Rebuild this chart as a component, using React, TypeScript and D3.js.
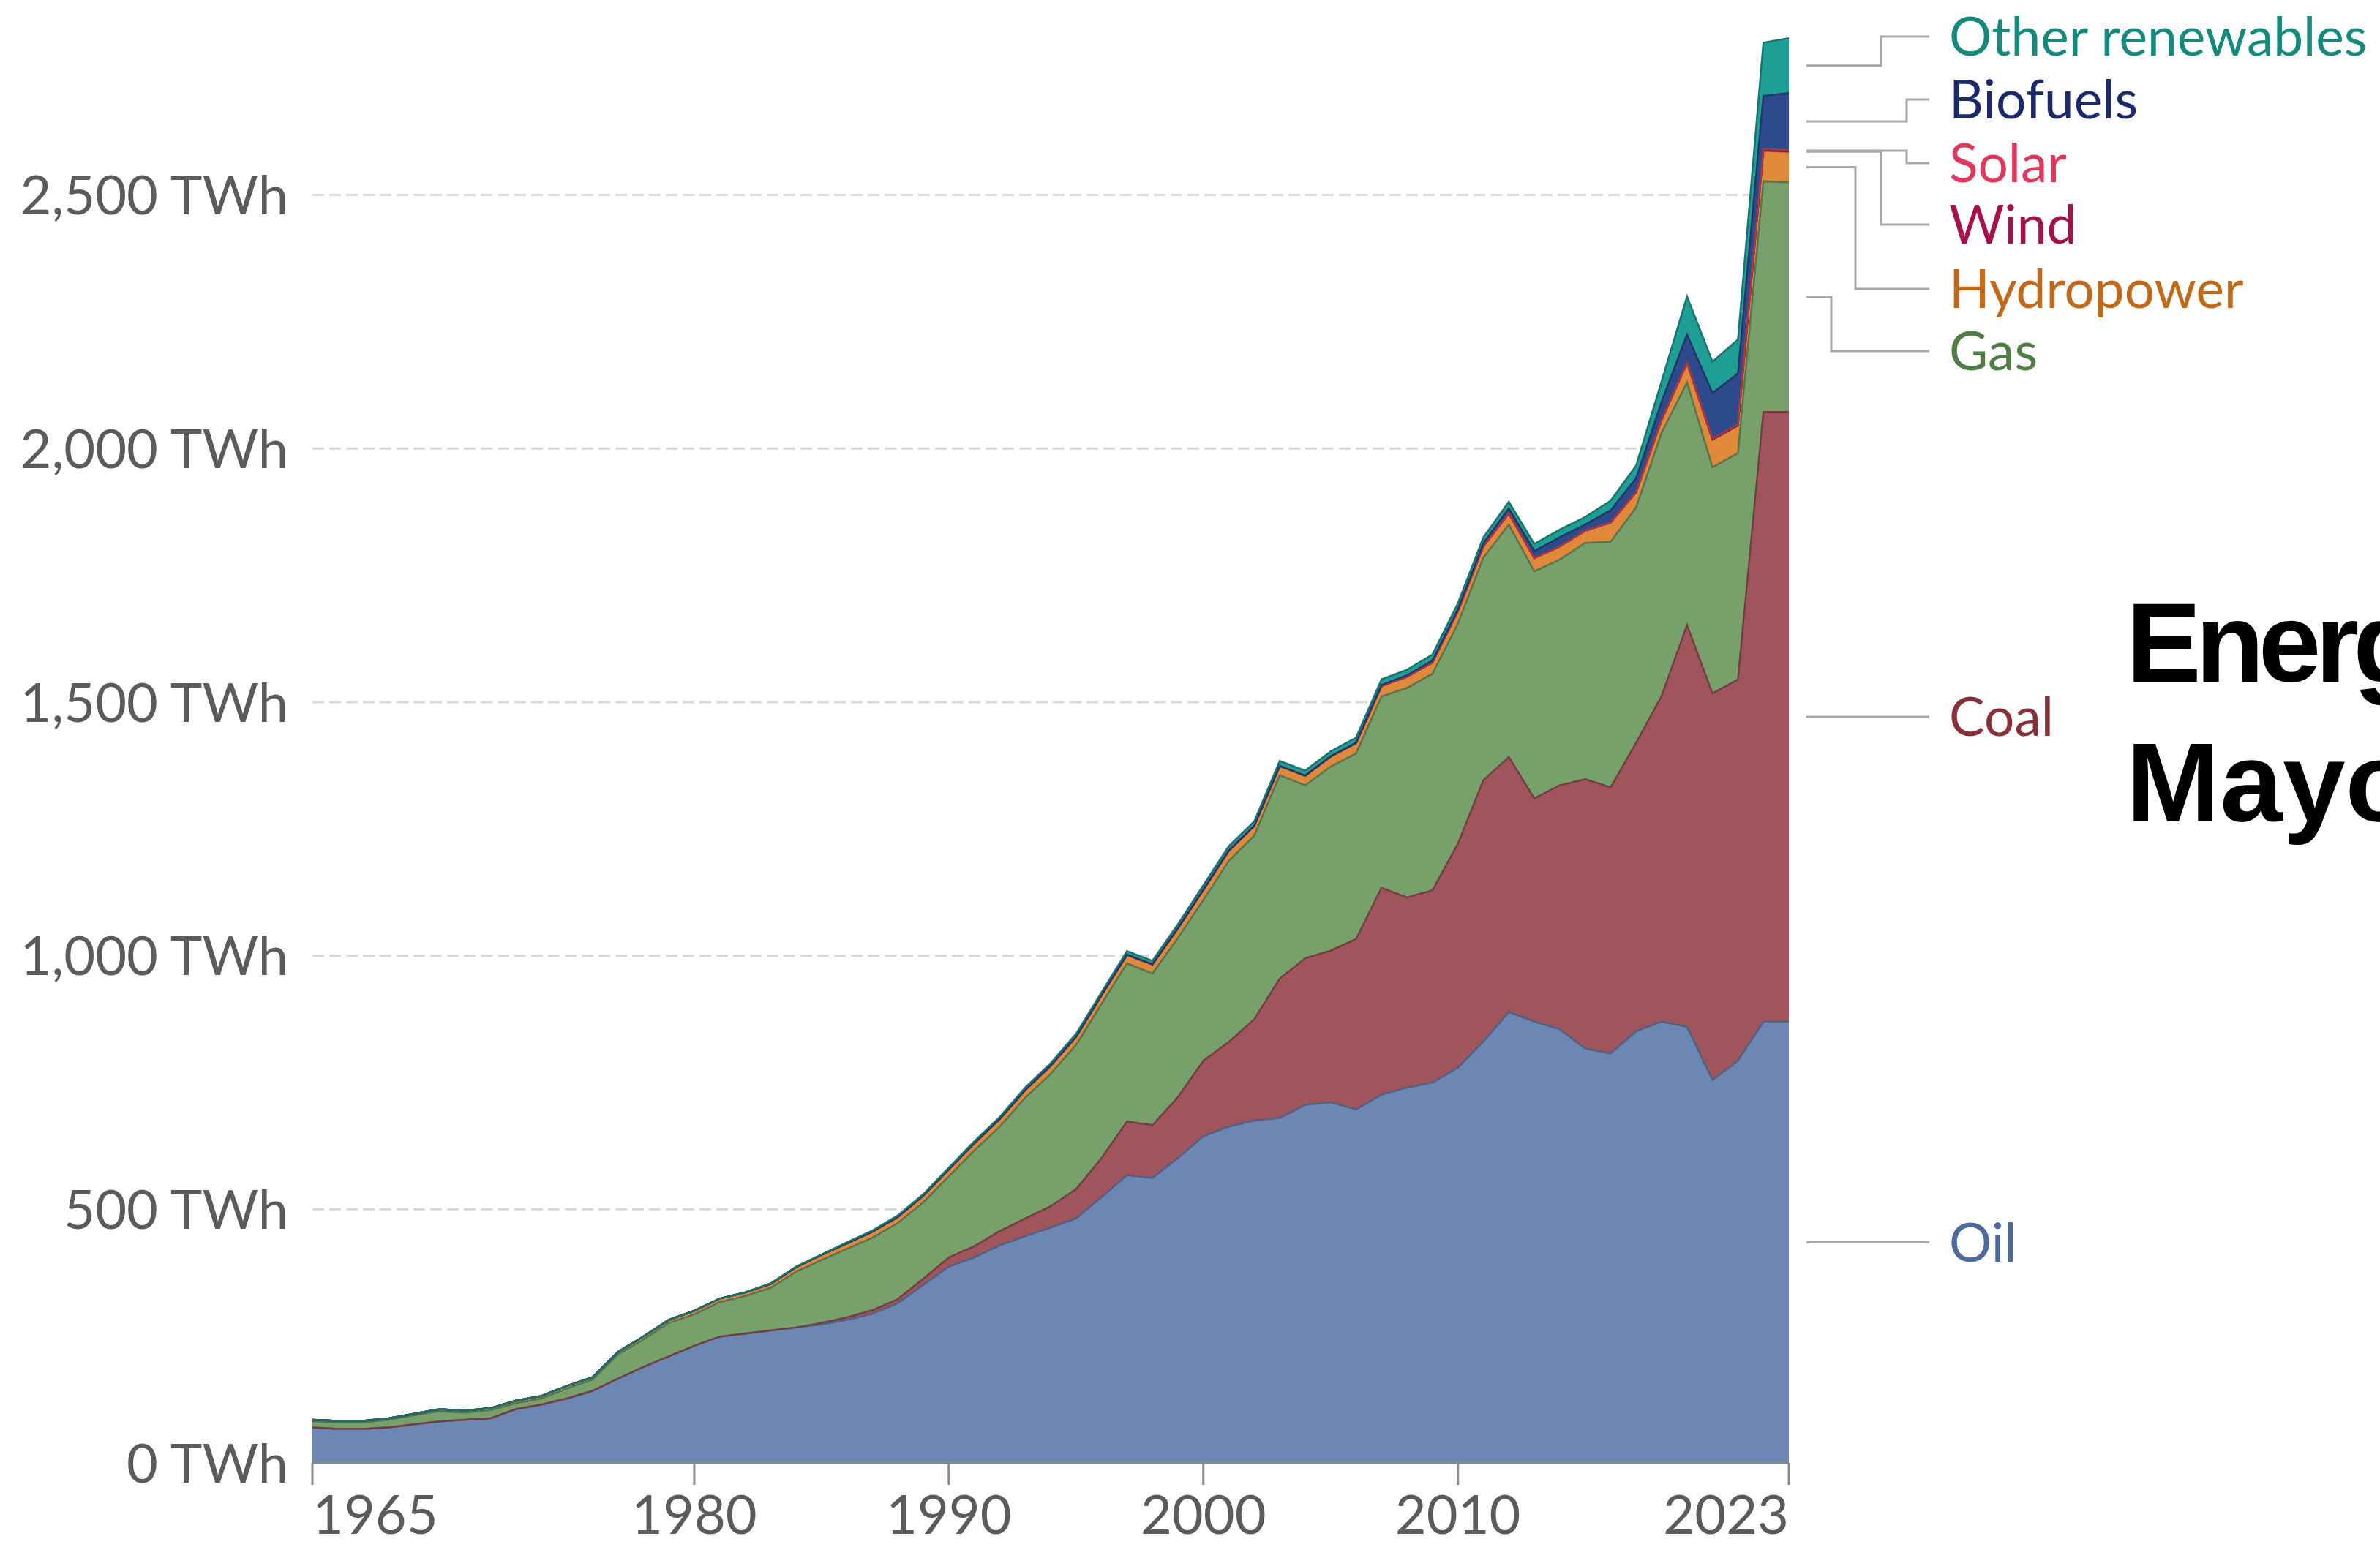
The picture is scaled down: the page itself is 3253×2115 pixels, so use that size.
import React from "react";
import * as d3 from "d3";

// primary energy by source, TWh
const years = [
  1965, 1966, 1967, 1968, 1969, 1970, 1971, 1972, 1973, 1974, 1975, 1976, 1977, 1978, 1979,
  1980, 1981, 1982, 1983, 1984, 1985, 1986, 1987, 1988, 1989, 1990, 1991, 1992, 1993, 1994,
  1995, 1996, 1997, 1998, 1999, 2000, 2001, 2002, 2003, 2004, 2005, 2006, 2007, 2008, 2009,
  2010, 2011, 2012, 2013, 2014, 2015, 2016, 2017, 2018, 2019, 2020, 2021, 2022, 2023,
];
const oil = [
  70, 67, 67, 70, 76, 82, 85, 88, 106, 115, 127,
  142, 166, 189, 210, 231, 249, 255, 261, 267, 273,
  282, 294, 315, 351, 387, 405, 429, 447, 464, 482,
  524, 567, 562, 601, 644, 663, 675, 680, 706, 711,
  697, 726, 740, 750, 779, 831, 889, 870, 855, 817,
  807, 851, 870, 860, 755, 793, 870, 870,
];
const coal = [
  0, 0, 0, 0, 0, 0, 0, 0, 0, 0, 0,
  0, 0, 0, 0, 0, 0, 0, 0, 0, 3,
  5, 7, 8, 12, 18, 22, 28, 35, 42, 58,
  77, 106, 104, 120, 149, 167, 200, 275, 289, 299,
  336, 408, 375, 379, 442, 515, 503, 440, 481, 531,
  525, 569, 642, 792, 762, 752, 1202, 1202,
];
const gas = [
  12, 13, 13, 15, 18, 20, 14, 16, 12, 12, 20,
  22, 48, 54, 66, 62, 68, 74, 84, 110, 124,
  135, 143, 150, 151, 160, 189, 206, 238, 261, 284,
  304, 312, 299, 314, 317, 357, 362, 401, 341, 363,
  366, 377, 413, 427, 434, 439, 458, 448, 445, 466,
  484, 464, 519, 478, 446, 446, 455, 453,
];
const hydropower = [
  3, 3, 3, 3, 3, 4, 4, 4, 5, 5, 5,
  5, 5, 6, 6, 7, 7, 7, 8, 9, 10,
  11, 12, 12, 13, 14, 14, 15, 15, 16, 16,
  17, 17, 18, 19, 20, 20, 19, 18, 19, 20,
  20, 21, 22, 22, 24, 22, 22, 26, 26, 24,
  38, 30, 25, 38, 54, 54, 60, 60,
];
const wind = [
  0, 0, 0, 0, 0, 0, 0, 0, 0, 0, 0,
  0, 0, 0, 0, 0, 0, 0, 0, 0, 0,
  0, 0, 0, 0, 0, 0, 0, 0, 0, 0,
  0, 0, 0, 0, 0, 0, 0, 0, 0, 0,
  0, 0, 0, 0, 0, 0, 0, 0, 0, 0,
  0, 0, 0.5, 1, 1, 1, 1, 1,
];
const solar = [
  0, 0, 0, 0, 0, 0, 0, 0, 0, 0, 0,
  0, 0, 0, 0, 0, 0, 0, 0, 0, 0,
  0, 0, 0, 0, 0, 0, 0, 0, 0, 0,
  0, 0, 0, 0, 0, 0, 0, 0, 0, 0,
  0, 0, 0, 0, 0, 0, 0, 0, 0, 0.2,
  0.3, 0.5, 0.7, 1, 1.5, 2, 2.5, 3,
];
const biofuels = [
  0, 0, 0, 0, 0, 0, 0, 0, 0, 0, 0,
  0, 0, 0, 0, 0, 0, 0, 0, 0, 0,
  0, 0, 0, 0, 0, 0, 0, 0, 0, 0,
  0, 0, 0, 0, 0, 0, 0, 0, 0, 0,
  1, 2, 3, 4, 4, 6, 10, 14, 18, 12,
  24, 27, 35, 55, 90, 100, 105, 112,
];
const otherRenewables = [
  0, 0, 0, 0, 0, 0, 0, 0, 0, 0, 0,
  0, 0, 0, 0, 0, 0, 0, 1, 1, 1,
  2, 2, 3, 3, 3, 4, 4, 5, 5, 6,
  6, 7, 7, 8, 9, 9, 9, 10, 10, 10,
  10, 11, 11, 12, 12, 12, 13, 14, 15, 15,
  19, 25, 40, 75, 62, 67, 105, 108,
];

const sources = ["Oil", "Coal", "Gas", "Hydropower", "Wind", "Solar", "Biofuels", "Other renewables"];
const values = [oil, coal, gas, hydropower, wind, solar, biofuels, otherRenewables];
const fills = ["#6d87b4", "#a0545c", "#77a06b", "#e0893a", "#b8284f", "#e64a62", "#2d4b8c", "#1f9e96"];
const textColors = ["#4c6a9c", "#883039", "#4f7d45", "#c0691a", "#a3124c", "#e0385c", "#1b2a6b", "#158a7c"];

const yTicks = [0, 500, 1000, 1500, 2000, 2500];
const xTicks = [1965, 1980, 1990, 2000, 2010, 2023];
const titleLines = ["Energía", "Mayores"];

const W = 3253;
const H = 2115;
const FONT = "Lato, 'Noto Sans', sans-serif";

// legend placement: label y and elbow x (null = straight line)
const labelLayout: Record<string, { y: number | null; elbow: number | null }> = {
  "Other renewables": { y: 50, elbow: 2571 },
  Biofuels: { y: 136, elbow: 2606 },
  Solar: { y: 223, elbow: 2606 },
  Wind: { y: 307, elbow: 2571 },
  Hydropower: { y: 395, elbow: 2536 },
  Gas: { y: 480, elbow: 2503 },
  Coal: { y: null, elbow: null },
  Oil: { y: null, elbow: null },
};

const App = () => {
  const x = d3.scaleLinear().domain([1965, 2023]).range([427, 2445]);
  const y = d3.scaleLinear().domain([0, 2500]).range([2000, 266.6]);

  const rows = years.map((yr, i) => {
    const r: any = { year: yr };
    sources.forEach((s, k) => (r[s] = values[k][i]));
    return r;
  });
  const stacked = d3.stack<any>().keys(sources)(rows);

  const area = d3
    .area<any>()
    .x((d) => x(d.data.year))
    .y0((d) => y(d[0]))
    .y1((d) => y(d[1]));
  const topLine = d3
    .line<any>()
    .x((d) => x(d.data.year))
    .y((d) => y(d[1]));

  const lineStart = x(2023) + 24;
  const lineEnd = 2637;

  return (
    <svg
      width={W}
      height={H}
      style={{ position: "absolute", left: 0, top: 0, background: "#fff" }}
    >
      {/* grid */}
      {yTicks.slice(1).map((t) => (
        <line
          key={"g" + t}
          x1={x(1965)}
          x2={x(2023)}
          y1={y(t)}
          y2={y(t)}
          stroke="#d8d8d8"
          strokeWidth={3}
          strokeDasharray="16,7"
        />
      ))}
      {yTicks.map((t) => (
        <text
          key={"yl" + t}
          x={394}
          y={y(t)}
          dy="0.36em"
          textAnchor="end"
          fontFamily={FONT}
          fontSize={74}
          fill="#5b5b5b"
        >
          {d3.format(",")(t) + " TWh"}
        </text>
      ))}

      {/* areas */}
      {stacked.map((s, k) => (
        <path key={"a" + k} d={area(s) || ""} fill={fills[k]} />
      ))}
      {stacked.map((s, k) => (
        <path
          key={"l" + k}
          d={topLine(s) || ""}
          fill="none"
          stroke={d3.color(fills[k])!.darker(0.9).formatHex()}
          strokeWidth={2.5}
        />
      ))}

      {/* x axis */}
      <line x1={x(1965)} x2={x(2023)} y1={y(0)} y2={y(0)} stroke="#8a8a8a" strokeWidth={3} />
      {xTicks.map((t, i) => (
        <g key={"xt" + t}>
          <line x1={x(t)} x2={x(t)} y1={y(0)} y2={y(0) + 30} stroke="#8a8a8a" strokeWidth={3} />
          <text
            x={x(t)}
            y={2097}
            textAnchor={i === 0 ? "start" : i === xTicks.length - 1 ? "end" : "middle"}
            fontFamily={FONT}
            fontSize={74}
            fill="#5b5b5b"
          >
            {t}
          </text>
        </g>
      ))}

      {/* labels */}
      {stacked.map((s, k) => {
        const last = s[s.length - 1];
        const sy = y((last[0] + last[1]) / 2);
        const lay = labelLayout[sources[k]];
        const ly = lay.y === null ? sy : lay.y;
        const d =
          lay.elbow === null
            ? `M${lineStart},${sy}H${lineEnd}`
            : `M${lineStart},${sy}H${lay.elbow}V${ly}H${lineEnd}`;
        return (
          <g key={"lab" + k}>
            <path d={d} fill="none" stroke="#a8a8a8" strokeWidth={3} />
            <text
              x={2664}
              y={ly}
              dy="0.36em"
              fontFamily={FONT}
              fontSize={73}
              fill={textColors[k]}
            >
              {sources[k]}
            </text>
          </g>
        );
      })}

      {/* title, cut by the page edge as in the slide */}
      {titleLines.map((t, i) => (
        <text
          key={"t" + i}
          x={2906}
          y={932 + i * 191}
          fontFamily="'Liberation Sans', Arial, Helvetica, sans-serif"
          fontWeight="bold"
          fontSize={154}
          letterSpacing={i === 0 ? -8 : 0}
          fill="#000"
        >
          {t}
        </text>
      ))}
    </svg>
  );
};

export default App;
